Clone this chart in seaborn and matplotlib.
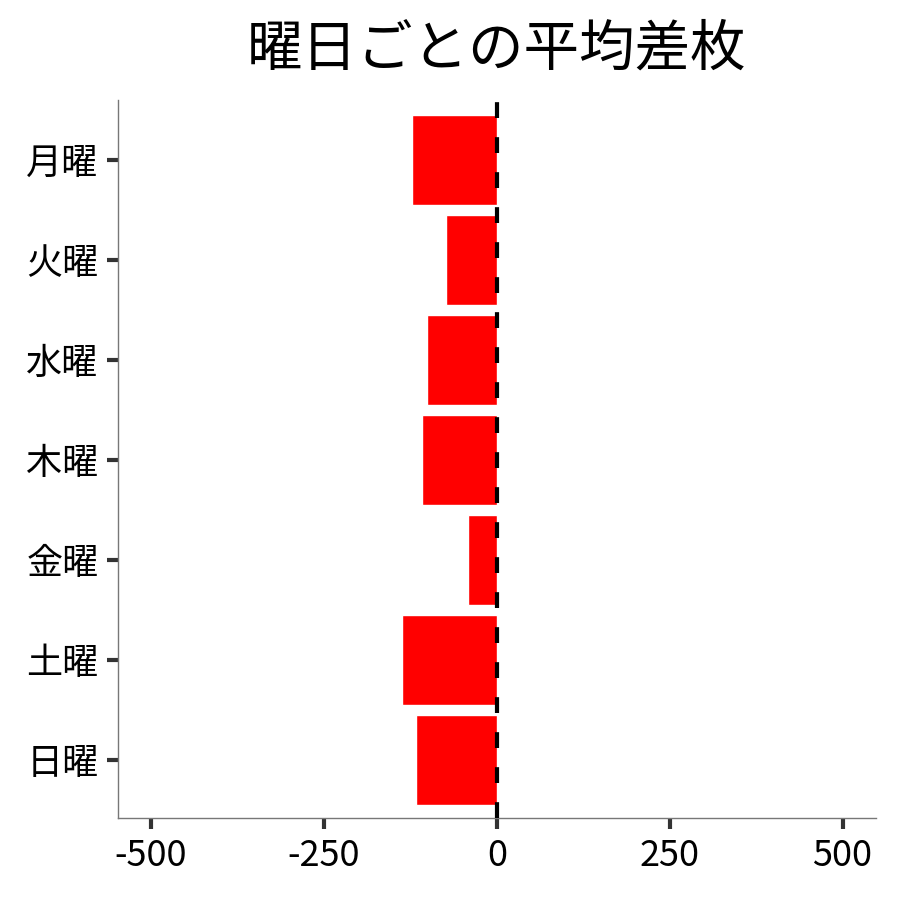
import matplotlib
matplotlib.use("Agg")
import matplotlib.pyplot as plt
import seaborn as sns
import pandas as pd

days   = ["月曜", "火曜", "水曜", "木曜", "金曜", "土曜", "日曜"]
diff   = [-123, -74, -101, -108, -42, -137, -117]

sns.set_style("white")
plt.rcParams['font.family'] = ['Noto Sans CJK JP', 'DejaVu Sans']
plt.rcParams['text.color'] = 'black'

df = pd.DataFrame({'day': days, 'diff': diff})

fig = plt.figure(figsize=(9, 9), dpi=100)
ax = fig.add_axes([0.131, 0.091, 0.842, 0.798])
sns.barplot(data=df, x='diff', y='day', orient='h', color='red',
            saturation=1, width=0.9, ax=ax)
# 0 の基準線
ax.axvline(0, color='black', linestyle=(0, (3.8, 4.6)), linewidth=3, zorder=5)

ax.set_xlim(-548, 548)
ax.set_ylim(6.58, -0.6)
ax.set_xticks([-500, -250, 0, 250, 500])
ax.set_xticklabels(['-500', '-250', '0', '250', '500'])
ax.set_xlabel('')
ax.set_ylabel('')
ax.set_title('曜日ごとの平均差枚', fontsize=40, pad=25, color='black')
ax.tick_params(axis='both', labelsize=26, length=8, width=3, pad=6,
               color='#333333', labelcolor='black', left=True, bottom=True)
sns.despine(ax=ax)
for s in ['left', 'bottom']:
    ax.spines[s].set_color('#777777')
    ax.spines[s].set_linewidth(1)

plt.savefig('out.png', dpi=100)
